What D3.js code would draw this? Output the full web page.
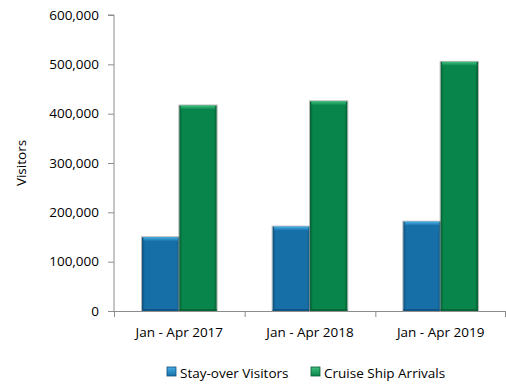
<!DOCTYPE html>
<html>
<head>
<meta charset="utf-8">
<script src="https://cdn.jsdelivr.net/npm/d3@7"></script>
<style>
  html, body { margin: 0; padding: 0; background: #fff; }
  svg { display: block; font-family: "Open Sans", "Liberation Sans", sans-serif; }
</style>
</head>
<body>
<svg id="chart" width="506" height="387"></svg>
<script>
// Visitor arrivals, January to April of each year
const categories = ["Jan - Apr 2017", "Jan - Apr 2018", "Jan - Apr 2019"];
const seriesNames = ["Stay-over Visitors", "Cruise Ship Arrivals"];
const stayOver = [149500, 171000, 181000];
const cruise = [416500, 425000, 505000];
const yTicks = [0, 100000, 200000, 300000, 400000, 500000, 600000];

const seriesValues = [stayOver, cruise];
const palette = [
  { base: "#1670a7", light: "#46aee6", dark: "#0f4f7a" },
  { base: "#08854a", light: "#3fbf7f", dark: "#065e33" }
];

const svg = d3.select("#chart");
const margin = { left: 114, right: 0, top: 15, bottom: 76 };
const W = 506, H = 387;

const x0 = d3.scaleBand().domain(categories).range([margin.left, W - margin.right]).padding(0);
const x1 = d3.scaleBand().domain(seriesNames).range([0, x0.bandwidth()]).paddingInner(0).paddingOuter(0.75);
const y = d3.scaleLinear().domain([0, 600000]).range([H - margin.bottom, margin.top]);

// Gradients giving the bars a bevelled look
const defs = svg.append("defs");
palette.forEach((p, i) => {
  const g = defs.append("linearGradient").attr("id", "side" + i).attr("x1", 0).attr("x2", 1).attr("y1", 0).attr("y2", 0);
  g.append("stop").attr("offset", "0").attr("stop-color", p.dark);
  g.append("stop").attr("offset", "0.08").attr("stop-color", p.base);
  g.append("stop").attr("offset", "0.92").attr("stop-color", p.base);
  g.append("stop").attr("offset", "1").attr("stop-color", p.dark);
  const t = defs.append("linearGradient").attr("id", "top" + i).attr("x1", 0).attr("x2", 0).attr("y1", 0).attr("y2", 1);
  t.append("stop").attr("offset", "0").attr("stop-color", p.light);
  t.append("stop").attr("offset", "1").attr("stop-color", p.base);
});

// Y axis
const yAxis = d3.axisLeft(y).tickValues(yTicks).tickSize(6).tickPadding(9)
  .tickFormat(d => d3.format(",")(d));
const gy = svg.append("g").attr("transform", `translate(${margin.left},0)`).call(yAxis);
gy.select(".domain").attr("stroke", "#8c8c8c").attr("d", `M-6,${y(600000)}H0V${y(0)}`);
gy.selectAll(".tick line").attr("stroke", "#8c8c8c");
gy.selectAll(".tick text").attr("fill", "#000").style("font-size", "13.5px")
  .style("font-family", "'Open Sans', sans-serif");

// X axis
const xAxis = d3.axisBottom(x0).tickSize(0).tickPadding(16);
const gx = svg.append("g").attr("transform", `translate(0,${y(0)})`).call(xAxis);
gx.select(".domain").attr("stroke", "#8c8c8c").attr("d", `M${margin.left},0.5H${W - 1}`);
gx.selectAll(".tick text").attr("fill", "#000").style("font-size", "13.5px")
  .style("font-family", "'Open Sans', sans-serif");
// Category separator ticks
const seps = categories.map(c => x0(c)).concat([x0.range()[1] - 1]);
gx.selectAll(".sep").data(seps).join("line").attr("class", "sep")
  .attr("x1", d => d + 0.5).attr("x2", d => d + 0.5).attr("y1", 0).attr("y2", 6)
  .attr("stroke", "#8c8c8c");

// Bars
const groups = svg.append("g").selectAll("g").data(categories).join("g")
  .attr("transform", d => `translate(${x0(d)},0)`);
seriesNames.forEach((s, si) => {
  groups.each(function (c, ci) {
    const v = seriesValues[si][ci];
    const bx = x1(s), bw = x1.bandwidth();
    const by = y(v), bh = y(0) - y(v);
    const g = d3.select(this);
    g.append("rect").attr("x", bx - 0.5).attr("y", by - 0.5).attr("width", bw + 1).attr("height", bh + 0.5)
      .attr("fill", "none").attr("stroke", "#9a9a9a").attr("stroke-width", 1).attr("opacity", 0.7);
    g.append("rect").attr("x", bx).attr("y", by).attr("width", bw).attr("height", bh)
      .attr("fill", `url(#side${si})`);
    g.append("rect").attr("x", bx + 1.5).attr("y", by).attr("width", bw - 3).attr("height", 4)
      .attr("fill", `url(#top${si})`);
    g.append("rect").attr("x", bx).attr("y", y(0) - 2).attr("width", bw).attr("height", 2)
      .attr("fill", palette[si].dark).attr("opacity", 0.8);
  });
});

// Y axis title
svg.append("text").attr("transform", `translate(26,${(y(0) + y(600000)) / 2}) rotate(-90)`)
  .attr("text-anchor", "middle").style("font-size", "13.5px").text("Visitors");

// Legend
const legendItems = [
  { name: seriesNames[0], x: 167, c: palette[0] },
  { name: seriesNames[1], x: 311, c: palette[1] }
];
const lg = svg.append("g");
legendItems.forEach((it, i) => {
  lg.append("rect").attr("x", it.x).attr("y", 367).attr("width", 9).attr("height", 9)
    .attr("fill", `url(#top${i})`).attr("stroke", it.c.dark).attr("stroke-width", 0.8);
  lg.append("text").attr("x", it.x + 13).attr("y", 377.5).style("font-size", "13.5px").text(it.name);
});
</script>
</body>
</html>
